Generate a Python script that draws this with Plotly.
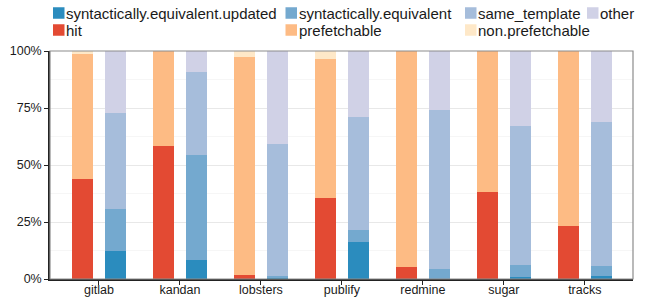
import plotly.graph_objects as go

# ---- data ----
categories = ["gitlab", "kandan", "lobsters", "publify", "redmine", "sugar", "tracks"]

# left bar (cache outcome), percentages per segment
hit = [43.9, 58.3, 1.6, 35.4, 5.1, 38.1, 23.1]
prefetchable = [54.9, 41.7, 95.8, 61.1, 94.9, 61.9, 76.9]
non_prefetchable = [1.2, 0.0, 2.6, 3.5, 0.0, 0.0, 0.0]

# right bar (query similarity), percentages per segment
synt_equiv_updated = [12.3, 8.2, 0.3, 16.1, 0.0, 0.7, 1.2]
synt_equiv = [18.3, 46.1, 0.9, 5.3, 4.2, 5.3, 4.4]
same_template = [42.2, 36.5, 58.0, 49.6, 69.9, 61.1, 63.2]
other = [27.2, 9.2, 40.8, 29.0, 25.9, 32.9, 31.2]

y_tickvals = [0, 25, 50, 75, 100]
y_ticktext = ["0%", "25%", "50%", "75%", "100%"]

left_series = [("hit", hit), ("prefetchable", prefetchable), ("non.prefetchable", non_prefetchable)]
right_series = [("syntactically.equivalent.updated", synt_equiv_updated),
                ("syntactically.equivalent", synt_equiv),
                ("same_template", same_template),
                ("other", other)]

colors = {
    "syntactically.equivalent.updated": "#2b8cbe",
    "syntactically.equivalent": "#74a9cf",
    "same_template": "#a6bddb",
    "other": "#d0d1e6",
    "hit": "#e34a33",
    "prefetchable": "#fdbb84",
    "non.prefetchable": "#fee8c8",
}

# ---- layout constants ----
W, H = 648, 297
ML, MR, MT, MB = 50, 15, 51, 18
OFF = 0.204
BW = 0.26
FONT = "Liberation Sans, Arial, sans-serif"

fig = go.Figure()
xs = list(range(len(categories)))
for name, vals in left_series:
    fig.add_trace(go.Bar(x=[i - OFF for i in xs], y=vals, width=BW, name=name,
                         marker=dict(color=colors[name], line=dict(width=0)),
                         showlegend=False))
for name, vals in right_series:
    fig.add_trace(go.Bar(x=[i + OFF for i in xs], y=vals, width=BW, name=name,
                         marker=dict(color=colors[name], line=dict(width=0)),
                         showlegend=False))

pw = W - ML - MR
ph = H - MT - MB

def px2x(px):
    return (px - ML) / pw

def py2y(py):
    return (H - MB - py) / ph

# custom legend: columns (pixel left of swatch) and rows (pixel centre)
ROW1, ROW2 = 13, 30
legend_layout = [
    ("syntactically.equivalent.updated", 53, ROW1),
    ("hit", 53, ROW2),
    ("syntactically.equivalent", 285.5, ROW1),
    ("prefetchable", 285.5, ROW2),
    ("same_template", 465, ROW1),
    ("non.prefetchable", 465, ROW2),
    ("other", 587, ROW1),
]
shapes = []
annotations = []
SW = 11.5
for name, lx, cy in legend_layout:
    shapes.append(dict(type="rect", xref="paper", yref="paper",
                       x0=px2x(lx), x1=px2x(lx + SW),
                       y0=py2y(cy + SW / 2), y1=py2y(cy - SW / 2),
                       fillcolor=colors[name], line=dict(width=0)))
    annotations.append(dict(text=name, xref="paper", yref="paper",
                            x=px2x(lx + SW + 1.5), y=py2y(cy + 0.5),
                            xanchor="left", yanchor="middle", showarrow=False,
                            borderpad=0, borderwidth=0,
                            font=dict(family=FONT, size=15, color="#1a1a1a")))

# grey panel border
shapes.append(dict(type="rect", xref="paper", yref="paper", x0=0, x1=1, y0=0, y1=1,
                   line=dict(color="#8c8c8c", width=1.2), layer="above"))

fig.update_layout(
    width=W, height=H,
    margin=dict(l=ML, r=MR, t=MT, b=MB, pad=0, autoexpand=False),
    barmode="stack",
    bargap=0,
    plot_bgcolor="white",
    paper_bgcolor="white",
    font=dict(family=FONT, size=12.5, color="#1a1a1a"),
    shapes=shapes,
    annotations=annotations,
    showlegend=False,
)
fig.update_xaxes(
    automargin=False,
    range=[-0.605, 6.595],
    tickmode="array", tickvals=xs, ticktext=categories,
    showgrid=False, zeroline=False,
    showline=True, linecolor="#222222", linewidth=1.5,
    ticks="outside", ticklen=4, tickwidth=1.2, tickcolor="#222222",
    ticklabelstandoff=-6,
    tickfont=dict(size=12.5, color="#1a1a1a"),
)
fig.update_yaxes(
    automargin=False,
    range=[0, 100],
    tickmode="array", tickvals=y_tickvals, ticktext=y_ticktext,
    showgrid=True, gridcolor="#e8e8e8", gridwidth=1,
    zeroline=False,
    showline=True, linecolor="#222222", linewidth=1.5,
    ticks="outside", ticklen=4, tickwidth=1.2, tickcolor="#222222",
    tickfont=dict(size=12.5, color="#1a1a1a"),
    minor=dict(tickvals=[12.5, 37.5, 62.5, 87.5], showgrid=True,
               gridcolor="#f6f6f6", gridwidth=1, ticks=""),
)

fig.write_html("out.html", config={"displayModeBar": False},
               post_script="document.body.style.margin='0';document.body.style.overflow='hidden';")
